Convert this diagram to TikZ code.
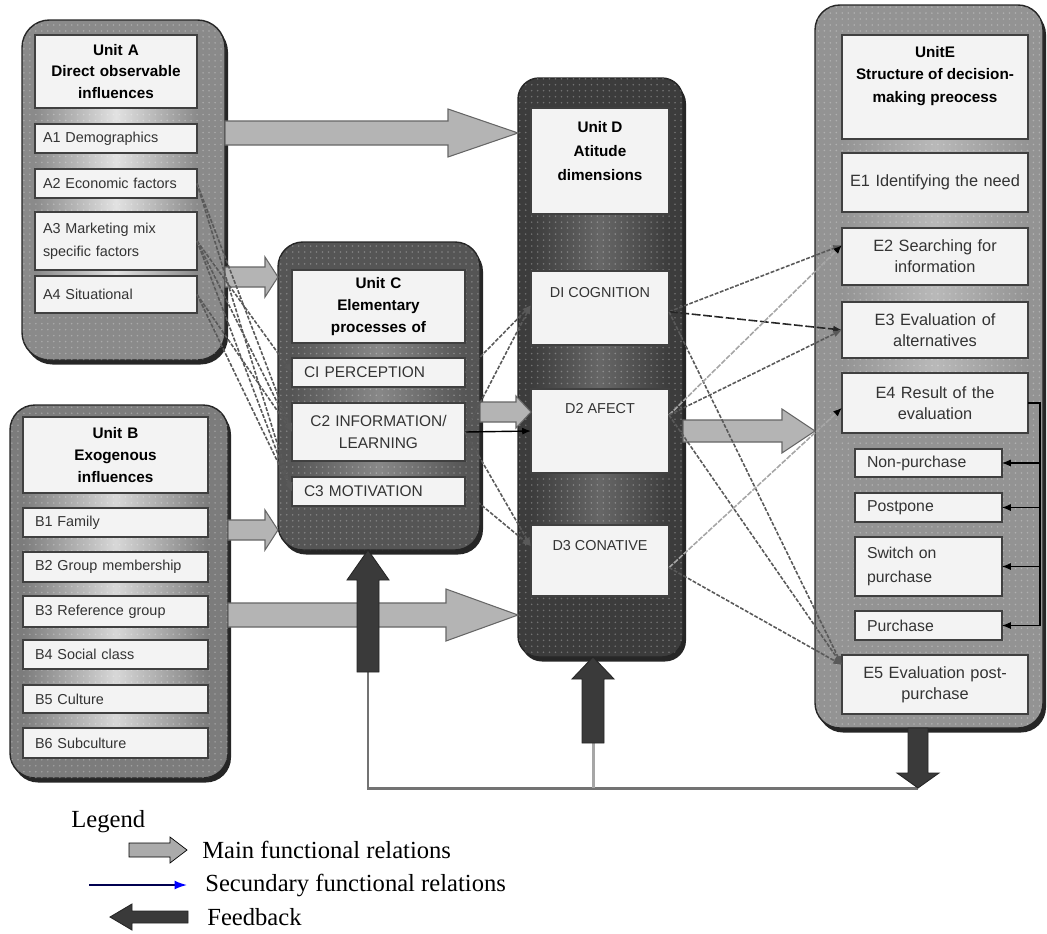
\documentclass[tikz,border=0pt]{standalone}
\usepackage{fontspec}
\newfontfamily\arl{Liberation Sans}
\newfontfamily\tnr{Liberation Serif}
\usetikzlibrary{calc,arrows.meta,patterns.meta,shadows}
\definecolor{cA}{HTML}{8A8A8A}
\definecolor{cB}{HTML}{7C7C7C}
\definecolor{cC}{HTML}{555555}
\definecolor{cD}{HTML}{3C3C3C}
\definecolor{cE}{HTML}{939393}
\definecolor{boxfill}{HTML}{F3F3F3}
\definecolor{fatgray}{HTML}{B4B4B4}
\definecolor{fbdark}{HTML}{3A3A3A}
\definecolor{navy}{HTML}{000050}

\tikzset{
 texture/.style={postaction={pattern={Dots[radius=0.5pt,distance=3.4pt]},pattern color=white,fill opacity=0.28}},
 cont/.style={draw=black!85, line width=0.8pt, rounded corners=0.5cm, inner sep=0pt, outer sep=0pt,
   drop shadow={shadow xshift=0.06cm, shadow yshift=-0.09cm, fill=black, opacity=0.85}, texture},
 ibox/.style={draw=black!75, line width=0.6pt, fill=boxfill, inner sep=0pt, outer sep=0pt, align=center,
   text=black!80, font=\arl\fontsize{8.5}{12}\selectfont},
 hfont/.style={font=\arl\bfseries\fontsize{8.7}{12.5}\selectfont, text=black, align=center},
 lt/.style={align=left},
 fA/.style={font=\arl\fontsize{8.2}{13}\selectfont, text width=2.92cm},
 fB/.style={font=\arl\fontsize{8.2}{12}\selectfont},
 fC/.style={font=\arl\fontsize{8.8}{12.5}\selectfont},
 fD/.style={font=\arl\fontsize{8.2}{12}\selectfont, text=black!80},
 fE/.style={font=\arl\fontsize{9.3}{11.8}\selectfont, text width=3.56cm},
 fS/.style={font=\arl\fontsize{9}{14}\selectfont},
 bandA/.style={left color=cA, right color=cA, middle color=white!75!cA, texture},
 bandB/.style={left color=cB, right color=cB, middle color=white!70!cB, texture},
 bandC/.style={left color=cC, right color=cC, middle color=white!30!cC, texture},
 bandD/.style={left color=cD, right color=cD, middle color=white!22!cD, texture},
 bandE/.style={left color=cE, right color=cE, middle color=white!35!cE, texture},
 fat/.style={fill=fatgray, draw=black!60, line width=0.6pt},
 fb/.style={fill=fbdark, draw=black!85, line width=0.5pt},
 legfat/.style={fill=black!33},
 fbline/.style={draw=black!55, line width=1.7pt},
 sec/.style={draw=black!65, line width=0.9pt, dash pattern=on 2.2pt off 0.9pt, -{Latex[length=5pt,width=4pt]}},
 secl/.style={draw=black!35, line width=0.9pt, dash pattern=on 3pt off 0.8pt, -{Latex[length=5pt,width=4pt,color=black]}},
 secd/.style={draw=black!85, line width=0.9pt, dash pattern=on 5pt off 1.5pt, -{Latex[length=5pt,width=4pt]}},
 secs/.style={draw=black, line width=0.8pt, -{Latex[length=5pt,width=4pt]}},
 brk/.style={draw=black, line width=0.6pt},
 lfont/.style={font=\tnr\fontsize{14}{16}\selectfont, anchor=west, inner sep=0pt}
}

\newcommand{\ct}[6][]{\node[cont,#1,minimum width={(#5-#3)*0.02cm},minimum height={(#6-#4)*0.02cm}] (#2) at ({(#3+#5)/2},{(#4+#6)/2}) {};}
\newcommand{\bx}[7][]{\node[ibox,minimum width={(#5-#3)*0.02cm},minimum height={(#6-#4)*0.02cm},text width={(#5-#3-24)*0.02cm},#1] (#2) at ({(#3+#5)/2},{(#4+#6)/2}) {#7};}
\newcommand{\fatR}[6]{\draw[#1] ($(#2)+(0,-#4)$) -- ($(#3)+(-#6,-#4)$) -- ($(#3)+(-#6,-#5)$) -- (#3) -- ($(#3)+(-#6,#5)$) -- ($(#3)+(-#6,#4)$) -- ($(#2)+(0,#4)$) -- cycle;}
\newcommand{\fatL}[6]{\draw[#1] ($(#2)+(0,-#4)$) -- ($(#3)+(#6,-#4)$) -- ($(#3)+(#6,-#5)$) -- (#3) -- ($(#3)+(#6,#5)$) -- ($(#3)+(#6,#4)$) -- ($(#2)+(0,#4)$) -- cycle;}
\newcommand{\fatU}[6]{\draw[#1] ($(#2)+(-#4,0)$) -- ($(#3)+(-#4,#6)$) -- ($(#3)+(-#5,#6)$) -- (#3) -- ($(#3)+(#5,#6)$) -- ($(#3)+(#4,#6)$) -- ($(#2)+(#4,0)$) -- cycle;}
\newcommand{\fatD}[6]{\draw[#1] ($(#2)+(-#4,0)$) -- ($(#3)+(-#4,-#6)$) -- ($(#3)+(-#5,-#6)$) -- (#3) -- ($(#3)+(#5,-#6)$) -- ($(#3)+(#4,-#6)$) -- ($(#2)+(#4,0)$) -- cycle;}

\begin{document}
\begin{tikzpicture}[x=0.02cm,y=-0.02cm]
\useasboundingbox (0,0) rectangle (1047,933);

% ---------- containers ----------
\ct[fill=cA,rounded corners=0.55cm]{A}{22}{20}{225}{360}
\ct[fill=cB]{B}{10}{405}{228}{778}
\ct[fill=cC]{C}{278}{242}{480}{550}
\ct[fill=cD,rounded corners=0.42cm]{D}{518}{78}{683}{657}
\ct[fill=cE]{E}{815}{5}{1043}{728}

% ---------- bands ----------
\foreach \a/\b in {108/124,153/169,198/212,270/276} \shade[bandA] (35,\a) rectangle (197,\b);
\foreach \a/\b in {493/508,537/552,582/596,627/640,669/685,713/728} \shade[bandB] (23,\a) rectangle (208,\b);
\foreach \a/\b in {343/358,387/403,461/477} \shade[bandC] (292,\a) rectangle (465,\b);
\foreach \a/\b in {214/271,345/389,473/525} \shade[bandD] (531,\a) rectangle (669,\b);
\foreach \a/\b in {139/153,212/228,285/302,358/373} \shade[bandE] (842,\a) rectangle (1028,\b);

% ---------- Unit A ----------
\bx[hfont]{Ah}{35}{35}{197}{108}{Unit A\\Direct observable\\influences}
\bx[fA,lt]{A1}{35}{124}{197}{153}{A1 Demographics}
\bx[fA,lt]{A2}{35}{169}{197}{198}{A2 Economic factors}
\bx[fA,lt]{A3}{35}{212}{197}{270}{A3 Marketing mix\\specific factors}
\bx[fA,lt]{A4}{35}{276}{197}{313}{A4 Situational}

% ---------- Unit B ----------
\bx[hfont]{Bh}{23}{417}{208}{493}{Unit B\\Exogenous\\influences}
\bx[fB,lt]{B1}{23}{508}{208}{537}{B1 Family}
\bx[fB,lt]{B2}{23}{552}{208}{582}{B2 Group membership}
\bx[fB,lt]{B3}{23}{596}{208}{627}{B3 Reference group}
\bx[fB,lt]{B4}{23}{640}{208}{669}{B4 Social class}
\bx[fB,lt]{B5}{23}{685}{208}{713}{B5 Culture}
\bx[fB,lt]{B6}{23}{728}{208}{758}{B6 Subculture}

% ---------- Unit C ----------
\bx[hfont]{Ch}{292}{270}{465}{343}{Unit C\\Elementary\\processes of}
\bx[fC,lt]{C1}{292}{358}{465}{387}{CI PERCEPTION}
\bx[fC]{C2}{292}{403}{465}{461}{C2 INFORMATION/\\LEARNING}
\bx[fC,lt]{C3}{292}{477}{465}{506}{C3 MOTIVATION}

% ---------- Unit D ----------
\bx{Dh}{531}{108}{669}{214}{}
\node[hfont,font=\arl\bfseries\fontsize{8.7}{13.6}\selectfont] (Dht) at (600,151) {Unit D\\Atitude\\dimensions};
\bx{D1}{531}{271}{669}{345}{}
\node[fD] (D1t) at (600,293) {DI COGNITION};
\bx{D2}{531}{389}{669}{473}{}
\node[fD] (D2t) at (600,409) {D2 AFECT};
\bx{D3}{531}{525}{669}{596}{}
\node[fD] (D3t) at (600,546) {D3 CONATIVE};

% ---------- Unit E ----------
\bx{Eh}{842}{35}{1028}{139}{}
\node[hfont,font=\arl\bfseries\fontsize{8.7}{12.8}\selectfont] (Eht) at (935,76) {UnitE\\Structure of decision-\\making preocess};
\bx[fE]{E1}{842}{153}{1028}{212}{E1 Identifying the need\\[6pt]}
\bx[fE]{E2}{842}{228}{1028}{285}{E2 Searching for\\information}
\bx[fE]{E3}{842}{302}{1028}{358}{E3 Evaluation of\\alternatives}
\bx[fE]{E4}{842}{373}{1028}{433}{E4 Result of the\\evaluation}
\bx[fS,lt]{NP}{855}{449}{1002}{477}{Non-purchase}
\bx[fS,lt]{PP}{855}{493}{1002}{522}{Postpone}
\bx[fS,lt]{SW}{855}{537}{1002}{596}{Switch on\\purchase}
\bx[fS,lt]{PU}{855}{611}{1002}{640}{Purchase}
\bx[fE]{E5}{842}{655}{1028}{714}{E5 Evaluation post-\\purchase}

% ---------- feedback base lines ----------
\coordinate (fbC) at (368,672);
\coordinate (fbCt) at (fbC |- C.south);
\coordinate (fbD) at (593,743);
\coordinate (fbDt) at (fbD |- D.south);
\coordinate (fbE) at (E.south -| 918,0);
\coordinate (fbEt) at (fbE |- 0,788);
\draw[fbline] (fbC) |- (fbEt);
\draw[fbline,draw=black!35] (fbD) -- (fbD |- fbEt);

% ---------- main functional relations ----------
\coordinate (ad0) at (A.east |- 0,133); \coordinate (ad1) at (D.west |- 0,133);
\fatR{fat}{ad0}{ad1}{12}{24}{70}
\coordinate (ac0) at (A.east |- 0,277); \coordinate (ac1) at (C.west |- 0,277);
\fatR{fat}{ac0}{ac1}{10}{20}{13}
\coordinate (bc0) at (B.east |- 0,530); \coordinate (bc1) at (C.west |- 0,530);
\fatR{fat}{bc0}{bc1}{10}{20}{13}
\coordinate (bd0) at (B.east |- 0,615); \coordinate (bd1) at (D.west |- 0,615);
\fatR{fat}{bd0}{bd1}{12}{26}{72}
\coordinate (cd0) at (C.east |- 0,412); \coordinate (cd1) at (D2.west |- 0,412);
\fatR{fat}{cd0}{cd1}{10}{16}{15}
\coordinate (de0) at (D.east |- 0,431); \coordinate (de1) at (E.west |- 0,431);
\fatR{fat}{de0}{de1}{11}{22}{33}

% ---------- feedback arrows ----------
\fatU{fb}{fbC}{fbCt}{11}{21}{30}
\fatU{fb}{fbD}{fbDt}{11}{21}{22}
\fatD{fb}{fbE}{fbEt}{10}{21}{15}

% ---------- secondary relations A -> C ----------
\draw[sec] (A2.east) -- (C2.west);
\draw[sec] (A2.east) -- (C3.west);
\draw[sec] (A3.east) -- (C1.west);
\draw[sec] (A3.east) -- (C2.west);
\draw[sec] (A3.east) -- (C3.west);
\draw[sec] (A4.east) -- (C2.west);
\draw[sec] (A4.east) -- (C3.west);

% ---------- secondary relations C -> D ----------
\coordinate (D1i) at ($(D1.north west)!0.46!(D1.south west)$);
\coordinate (D3i) at ($(D3.north west)!0.3!(D3.south west)$);
\draw[sec] (C1.east) -- (D1i);
\draw[sec] (C2.east) -- (D1i);
\draw[secs] (C2.east) -- (D2.west);
\draw[sec] (C2.east) -- (D3i);
\draw[sec] (C3.east) -- (D3i);

% ---------- secondary relations D -> E ----------
\coordinate (D1o) at ($(D1.north east)!0.55!(D1.south east)$);
\coordinate (D2o) at ($(D2.north east)!0.31!(D2.south east)$);
\coordinate (D3o) at ($(D3.north east)!0.6!(D3.south east)$);
\coordinate (E2i) at ($(E2.north west)!0.3!(E2.south west)$);
\coordinate (E4i) at ($(E4.north west)!0.58!(E4.south west)$);
\coordinate (E5i) at ($(E5.north west)!0.17!(E5.south west)$);
\draw[sec] (D1o) -- (E2i);
\draw[secd] (D1o) -- (E3.west);
\draw[sec] (D1o) -- (E5i);
\draw[secl] (D2o) -- (E2i);
\draw[sec] (D2o) -- (E3.west);
\draw[sec] (D2o) -- (E5i);
\draw[secl] (D3o) -- (E4i);
\draw[sec] (D3o) -- (E5i);

% ---------- result bracket ----------
\coordinate (brk) at (1040,403);
\draw[brk] (E4.east) -- (brk) -- (brk |- PU);
\foreach \n in {NP,PP,SW,PU} \draw[brk,-{Latex[length=5pt,width=4pt]}] (brk |- \n) -- (\n.east);

% ---------- legend ----------
\node[lfont] (leg) at (71,822) {Legend};
\coordinate (lm0) at (129,850); \coordinate (lm1) at (187,850);
\fatR{legfat}{lm0}{lm1}{7}{13}{17}
\node[lfont] (legm) at (202,850) {Main functional relations};
\coordinate (ls0) at (89,885); \coordinate (ls1) at (187,885);
\draw[draw=navy, line width=0.9pt, -{Latex[length=7pt,width=5pt,color=blue]}] (ls0) -- (ls1);
\node[lfont] (legs) at (205,885) {Secundary functional relations};
\coordinate (lf0) at (188,917); \coordinate (lf1) at (110,917);
\fatL{fb}{lf0}{lf1}{6}{13}{22}
\node[lfont] (legf) at (207,917) {Feedback};
\end{tikzpicture}
\end{document}
